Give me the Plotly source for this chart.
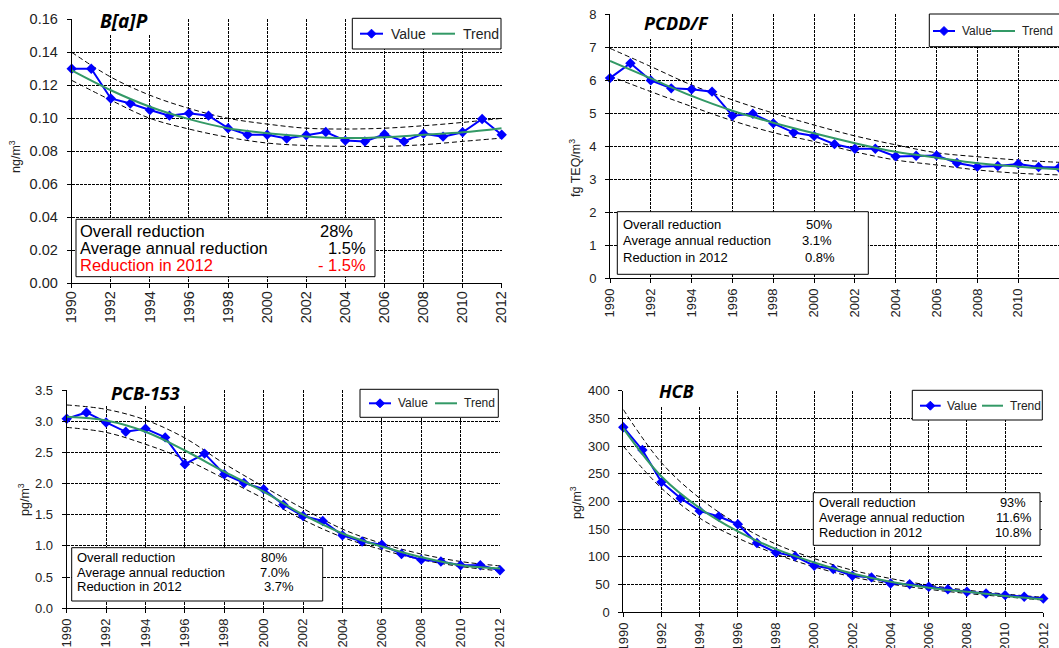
import plotly.graph_objects as go

W, H = 1059, 648

years = list(range(1990, 2013))
trend_years = list(range(1990, 2013, 2))
tick_years = list(range(1990, 2013, 2))
tick_text = [str(y) for y in tick_years]

# ---- B[a]P (ng/m3)
bap_value = [0.130, 0.130, 0.112, 0.109, 0.105, 0.1016, 0.103, 0.1016, 0.094, 0.090, 0.090, 0.0877,
             0.0897, 0.0917, 0.0865, 0.0859, 0.0903, 0.086, 0.0907, 0.0889, 0.0915, 0.0996, 0.090]
bap_trend = [0.129, 0.117, 0.107, 0.0995, 0.094, 0.091, 0.089, 0.088, 0.0885, 0.090, 0.0915, 0.094]
bap_upper = [0.140, 0.125, 0.114, 0.106, 0.100, 0.0965, 0.094, 0.0935, 0.094, 0.0955, 0.0975, 0.100]
bap_lower = [0.123, 0.111, 0.100, 0.0935, 0.0885, 0.085, 0.0835, 0.083, 0.083, 0.084, 0.086, 0.088]

# ---- PCDD/F (fg TEQ/m3)
pcdd_value = [6.06, 6.51, 5.99, 5.75, 5.72, 5.65, 4.92, 4.98, 4.69, 4.41, 4.31, 4.06,
              3.92, 3.92, 3.69, 3.71, 3.72, 3.49, 3.38, 3.40, 3.46, 3.37, 3.35]
pcdd_trend = [6.58, 6.05, 5.52, 5.07, 4.71, 4.39, 4.09, 3.83, 3.65, 3.48, 3.38, 3.30]
pcdd_upper = [6.96, 6.41, 5.85, 5.40, 5.00, 4.64, 4.31, 4.04, 3.80, 3.68, 3.58, 3.51]
pcdd_lower = [6.12, 5.65, 5.20, 4.77, 4.41, 4.14, 3.83, 3.58, 3.43, 3.28, 3.18, 3.13]

# ---- PCB-153 (pg/m3)
pcb_value = [3.04, 3.14, 2.98, 2.83, 2.88, 2.74, 2.31, 2.48, 2.15, 2.01, 1.91, 1.66,
             1.48, 1.40, 1.17, 1.07, 1.02, 0.87, 0.78, 0.75, 0.69, 0.69, 0.61]
pcb_trend = [3.07, 3.01, 2.83, 2.53, 2.19, 1.87, 1.50, 1.20, 0.99, 0.82, 0.69, 0.64]
pcb_upper = [3.26, 3.19, 3.02, 2.73, 2.32, 1.95, 1.60, 1.27, 1.04, 0.87, 0.75, 0.68]
pcb_lower = [2.90, 2.82, 2.63, 2.39, 2.08, 1.76, 1.42, 1.14, 0.94, 0.78, 0.67, 0.60]

# ---- HCB (pg/m3)
hcb_value = [334, 293, 235, 206, 183, 173, 159, 125, 108, 101, 84, 78,
             66, 63, 52, 50.5, 46, 41.5, 37, 34, 31, 28, 25]
hcb_trend = [332, 245, 188, 146, 114, 90, 70, 55, 44.5, 37, 29.5, 23.5]
hcb_upper = [366, 270, 206, 159, 123, 97, 76, 61, 49, 40, 33, 27]
hcb_lower = [300, 224, 170, 134, 105, 82, 64, 51, 41.5, 34, 28, 22]

stat_labels = ["Overall reduction", "Average annual reduction", "Reduction in 2012"]
bap_stats = ["28%", "1.5%", "- 1.5%"]
pcdd_stats = ["50%", "3.1%", "0.8%"]
pcb_stats = ["80%", "7.0%", "3.7%"]
hcb_stats = ["93%", "11.6%", "10.8%"]
legend_labels = ["Value", "Trend"]

FONT = "Liberation Sans, Arial, sans-serif"
BLUE = "#0000FF"
GREEN = "#339966"


def px(x):
    return x / W


def py(y):
    return 1 - y / H


panels = [
    dict(name="B[a]P", value=bap_value, trend=bap_trend, upper=bap_upper, lower=bap_lower,
         yr=[0, 0.16], dtick=0.02, fmt=".2f", ytitle="ng/m<sup>3</sup>",
         dom_x=(71.7, 501.7), dom_y=(19.3, 283.3), fs=14.5, xstand=-3,
         title_box=(91, 8, 160, 35), title_xy=(123.5, 21.5), tfs=19,
         ytitle_xy=(15, 157),
         leg_box=(352.3, 18.3, 501, 49), leg_cy=33.7, leg_v=(360, 383, 389), leg_t=(432, 455, 461),
         legfs=14,
         stats=bap_stats, box=(76, 219.3, 375, 276.7), lab_x=78.3,
         val_right=[355, 368, 368], rows=[231, 248, 265], sfs=16.5,
         colors=["#000000", "#000000", "#FF0000"]),
    dict(name="PCDD/F", value=pcdd_value, trend=pcdd_trend, upper=pcdd_upper, lower=pcdd_lower,
         yr=[0, 8], dtick=1, fmt="d", ytitle="fg TEQ/m<sup>3</sup>",
         dom_x=(610, 1059), dom_y=(14, 278.3), fs=13, xstand=0,
         title_box=(638, 4, 723, 39), title_xy=(676.5, 23), tfs=18,
         ytitle_xy=(575, 168),
         leg_box=(929.3, 14, 1075, 46.7), leg_cy=31, leg_v=(933, 955, 960), leg_t=(992, 1015, 1020),
         legfs=12,
         stats=pcdd_stats, box=(617.3, 211.7, 868.3, 274.3), lab_x=620.7,
         val_right=[834, 834, 837], rows=[224, 240.5, 257], sfs=13,
         colors=["#000000"] * 3),
    dict(name="PCB-153", value=pcb_value, trend=pcb_trend, upper=pcb_upper, lower=pcb_lower,
         yr=[0, 3.5], dtick=0.5, fmt=".1f", ytitle="pg/m<sup>3</sup>",
         dom_x=(66.7, 500), dom_y=(390, 608.3), fs=13, xstand=0,
         title_box=(103, 380, 198, 406), title_xy=(145, 392.5), tfs=18,
         ytitle_xy=(24, 500),
         leg_box=(360, 389.3, 498.3, 417.3), leg_cy=403.3, leg_v=(369, 391, 396), leg_t=(435, 457, 462),
         legfs=12,
         stats=pcb_stats, box=(71.7, 547.7, 322.7, 601), lab_x=75,
         val_right=[289, 292, 296], rows=[557.7, 572, 586.7], sfs=13,
         colors=["#000000"] * 3),
    dict(name="HCB", value=hcb_value, trend=hcb_trend, upper=hcb_upper, lower=hcb_lower,
         yr=[0, 400], dtick=50, fmt="d", ytitle="pg/m<sup>3</sup>",
         dom_x=(623.3, 1043.3), dom_y=(390.7, 612.3), fs=13, xstand=0,
         title_box=(652, 380, 712, 407), title_xy=(676.5, 391), tfs=18,
         ytitle_xy=(576, 503),
         leg_box=(912.3, 390.3, 1042.3, 420), leg_cy=405.7, leg_v=(920, 940.7, 945), leg_t=(982, 1003, 1008),
         legfs=12,
         stats=hcb_stats, box=(813.3, 492.7, 1040, 545.3), lab_x=817.3,
         val_right=[1028, 1033, 1033], rows=[502.7, 517, 532.3], sfs=12.8,
         colors=["#000000"] * 3),
]

fig = go.Figure()
shapes = []
annotations = []
layout = dict(
    width=W, height=H, margin=dict(l=0, r=0, t=0, b=0, autoexpand=False),
    paper_bgcolor="white", plot_bgcolor="white", showlegend=False,
    font=dict(family=FONT, color="#222222"),
)


def text_ann(text, x, y, size, color="#000000", xanchor="left", family=FONT, angle=0):
    return dict(text=text, xref="paper", yref="paper", x=px(x), y=py(y),
                xanchor=xanchor, yanchor="middle", showarrow=False, textangle=angle,
                font=dict(family=family, size=size, color=color))


for i, p in enumerate(panels):
    n = i + 1
    xa = "x" if n == 1 else f"x{n}"
    ya = "y" if n == 1 else f"y{n}"

    for band in (p["upper"], p["lower"]):
        fig.add_trace(go.Scatter(
            x=trend_years, y=band, mode="lines", xaxis=xa, yaxis=ya,
            line=dict(color="#000000", width=1, dash="5px,3px", shape="spline", smoothing=1),
            hoverinfo="skip", cliponaxis=False))
    fig.add_trace(go.Scatter(
        x=years, y=p["value"], mode="lines+markers", name="Value", xaxis=xa, yaxis=ya,
        line=dict(color=BLUE, width=2), marker=dict(symbol="diamond", size=8, color=BLUE),
        cliponaxis=False))
    fig.add_trace(go.Scatter(
        x=trend_years, y=p["trend"], mode="lines", name="Trend", xaxis=xa, yaxis=ya,
        line=dict(color=GREEN, width=2, shape="spline", smoothing=1),
        cliponaxis=False))

    x0, x1 = p["dom_x"]
    ytop, ybot = p["dom_y"]
    common = dict(showline=True, linecolor="#000000", linewidth=1,
                  ticks="outside", ticklen=4, tickcolor="#000000",
                  showgrid=True, gridcolor="#000000", griddash="3px,1px", gridwidth=1,
                  zeroline=False, automargin=False,
                  tickfont=dict(family=FONT, size=p["fs"], color="#222222"))
    layout["xaxis" if n == 1 else f"xaxis{n}"] = dict(
        domain=[px(x0), min(1.0, px(x1))], anchor=ya, range=[1990, 2012],
        tickmode="array", tickvals=tick_years, ticktext=tick_text, tickangle=-90,
        ticklabelstandoff=p["xstand"], **common)
    layout["yaxis" if n == 1 else f"yaxis{n}"] = dict(
        domain=[py(ybot), py(ytop)], anchor=xa, range=p["yr"], dtick=p["dtick"],
        tickformat=p["fmt"], ticklabelstandoff=6, **common)

    # title box
    bx0, by0, bx1, by1 = p["title_box"]
    shapes.append(dict(type="rect", xref="paper", yref="paper", layer="above",
                       x0=px(bx0), x1=px(bx1), y0=py(by1), y1=py(by0),
                       fillcolor="white", line=dict(width=0)))
    annotations.append(text_ann(f"<b><i>{p['name']}</i></b>", p["title_xy"][0], p["title_xy"][1],
                                p["tfs"], xanchor="center", family="Open Sans, sans-serif"))
    # y axis title
    annotations.append(text_ann(p["ytitle"], p["ytitle_xy"][0], p["ytitle_xy"][1], 12.5,
                                color="#222222", xanchor="center", angle=-90))

    # legend box (drawn by hand)
    lx0, ly0, lx1, ly1 = p["leg_box"]
    cy = p["leg_cy"]
    shapes.append(dict(type="rect", xref="paper", yref="paper", layer="above",
                       x0=px(lx0), x1=px(lx1), y0=py(ly1), y1=py(ly0),
                       fillcolor="white", line=dict(color="#000000", width=1)))
    vx0, vx1, vtx = p["leg_v"]
    shapes.append(dict(type="line", xref="paper", yref="paper", layer="above",
                       x0=px(vx0), x1=px(vx1), y0=py(cy), y1=py(cy),
                       line=dict(color=BLUE, width=2)))
    mx = (vx0 + vx1) / 2
    d = 4.5
    shapes.append(dict(type="path", xref="paper", yref="paper", layer="above",
                       path=(f"M {px(mx - d)} {py(cy)} L {px(mx)} {py(cy - d)} "
                             f"L {px(mx + d)} {py(cy)} L {px(mx)} {py(cy + d)} Z"),
                       fillcolor=BLUE, line=dict(color=BLUE, width=1)))
    annotations.append(text_ann(legend_labels[0], vtx, cy, p["legfs"], color="#222222"))
    tx0, tx1, ttx = p["leg_t"]
    shapes.append(dict(type="line", xref="paper", yref="paper", layer="above",
                       x0=px(tx0), x1=px(tx1), y0=py(cy), y1=py(cy),
                       line=dict(color=GREEN, width=2)))
    annotations.append(text_ann(legend_labels[1], ttx, cy, p["legfs"], color="#222222"))

    # stats box
    sx0, sy0, sx1, sy1 = p["box"]
    shapes.append(dict(type="rect", xref="paper", yref="paper", layer="above",
                       x0=px(sx0), x1=px(sx1), y0=py(sy1), y1=py(sy0),
                       fillcolor="white", line=dict(color="#000000", width=1)))
    for k in range(3):
        annotations.append(text_ann(stat_labels[k], p["lab_x"], p["rows"][k], p["sfs"],
                                    color=p["colors"][k]))
        annotations.append(text_ann(p["stats"][k], p["val_right"][k], p["rows"][k], p["sfs"],
                                    color=p["colors"][k], xanchor="right"))

layout["shapes"] = shapes
layout["annotations"] = annotations
fig.update_layout(**layout)
fig.write_html("out.html", config={"displayModeBar": False},
               post_script="document.body.style.margin='0px';")
